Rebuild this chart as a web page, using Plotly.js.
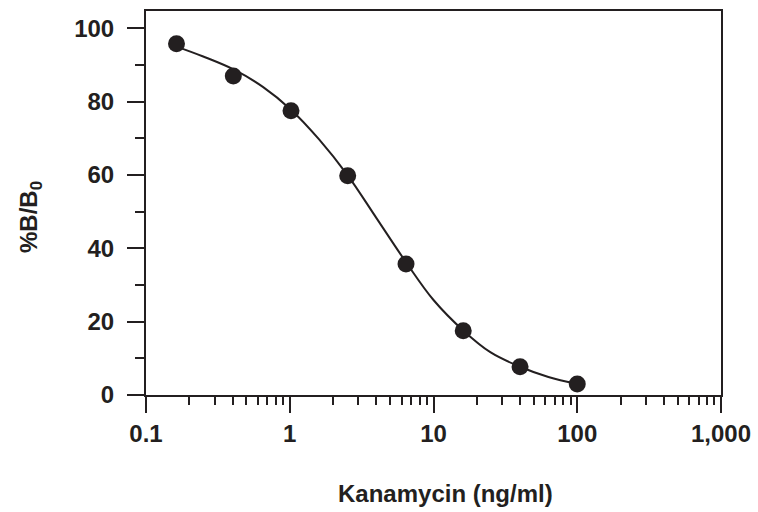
<!DOCTYPE html>
<html>
<head>
<meta charset="utf-8">
<script src="https://cdn.plot.ly/plotly-3.0.1.min.js"></script>
<style>html,body{margin:0;padding:0;background:#fff;}#chart{width:758px;height:512px;}</style>
</head>
<body>
<div id="chart"></div>
<script>
// Measured standard points
var pointX = [0.163, 0.405, 1.02, 2.53, 6.44, 16.1, 40, 100];
var pointY = [95.8, 87.0, 77.5, 59.8, 35.7, 17.5, 7.7, 3.0];

// Fitted curve
var curveX = [0.163, 0.25, 0.41, 0.65, 1.02, 1.6, 2.53, 4.0, 6.44, 10, 16.1, 25, 40, 63, 100];
var curveY = [95.0, 92.3, 88.7, 84.0, 77.8, 69.7, 59.9, 48.3, 36.2, 25.9, 17.6, 11.6, 7.7, 4.9, 3.0];

var xTickVals = [0.1, 1, 10, 100, 1000];
var xTickText = ['0.1', '1', '10', '100', '1,000'];
var yTickVals = [0, 20, 40, 60, 80, 100];
var xTitle = 'Kanamycin (ng/ml)';
var yTitle = '%B/B<sub>0</sub>';

var ink = '#231f20';
var fontFam = '"Liberation Sans", Arial, Helvetica, sans-serif';

var minorX = [];
[0.1, 1, 10, 100].forEach(function (d) { for (var k = 2; k <= 9; k++) minorX.push(+(d * k).toPrecision(3)); });

var traces = [
  { x: curveX, y: curveY, type: 'scatter', mode: 'lines',
    line: { color: ink, width: 2, shape: 'spline', smoothing: 1 }, hoverinfo: 'skip' },
  { x: pointX, y: pointY, type: 'scatter', mode: 'markers',
    marker: { color: ink, size: 17, line: { width: 0 } } }
];

var layout = {
  width: 758, height: 512,
  margin: { l: 146, r: 37, t: 11, b: 117, pad: 0 },
  paper_bgcolor: '#fff', plot_bgcolor: '#fff',
  showlegend: false,
  font: { family: fontFam, color: ink, size: 21 },
  xaxis: {
    type: 'log', range: [-1, 3],
    tickmode: 'array', tickvals: xTickVals, ticktext: xTickText,
    ticks: 'outside', ticklen: 16, tickwidth: 2, tickcolor: ink,
    minor: { tickmode: 'array', tickvals: minorX, ticks: 'outside', ticklen: 8, tickwidth: 2, tickcolor: ink },
    showline: true, linewidth: 2, linecolor: ink, mirror: true,
    showgrid: false, zeroline: false,
    tickfont: { family: fontFam, size: 24, color: ink, weight: 'bold' }
  },
  yaxis: {
    range: [0, 104.7],
    tickmode: 'array', tickvals: yTickVals,
    ticks: 'outside', ticklen: 17, tickwidth: 2, tickcolor: ink,
    minor: { dtick: 10, ticks: 'outside', ticklen: 9, tickwidth: 2, tickcolor: ink },
    showline: true, linewidth: 2, linecolor: ink, mirror: true,
    showgrid: false, zeroline: false,
    ticklabelstandoff: 8,
    tickfont: { family: fontFam, size: 24, color: ink, weight: 'bold' }
  },
  annotations: [
    { text: xTitle, xref: 'paper', yref: 'paper', x: 0.5217, y: -0.2578,
      xanchor: 'center', yanchor: 'middle', showarrow: false,
      font: { family: fontFam, size: 24, color: ink, weight: 'bold' } },
    { text: yTitle, xref: 'paper', yref: 'paper', x: -0.2017, y: 0.4635,
      xanchor: 'center', yanchor: 'middle', showarrow: false, textangle: -90,
      font: { family: fontFam, size: 24, color: ink, weight: 'bold' } }
  ]
};

Plotly.newPlot('chart', traces, layout, { staticPlot: true, displayModeBar: false });
</script>
</body>
</html>
